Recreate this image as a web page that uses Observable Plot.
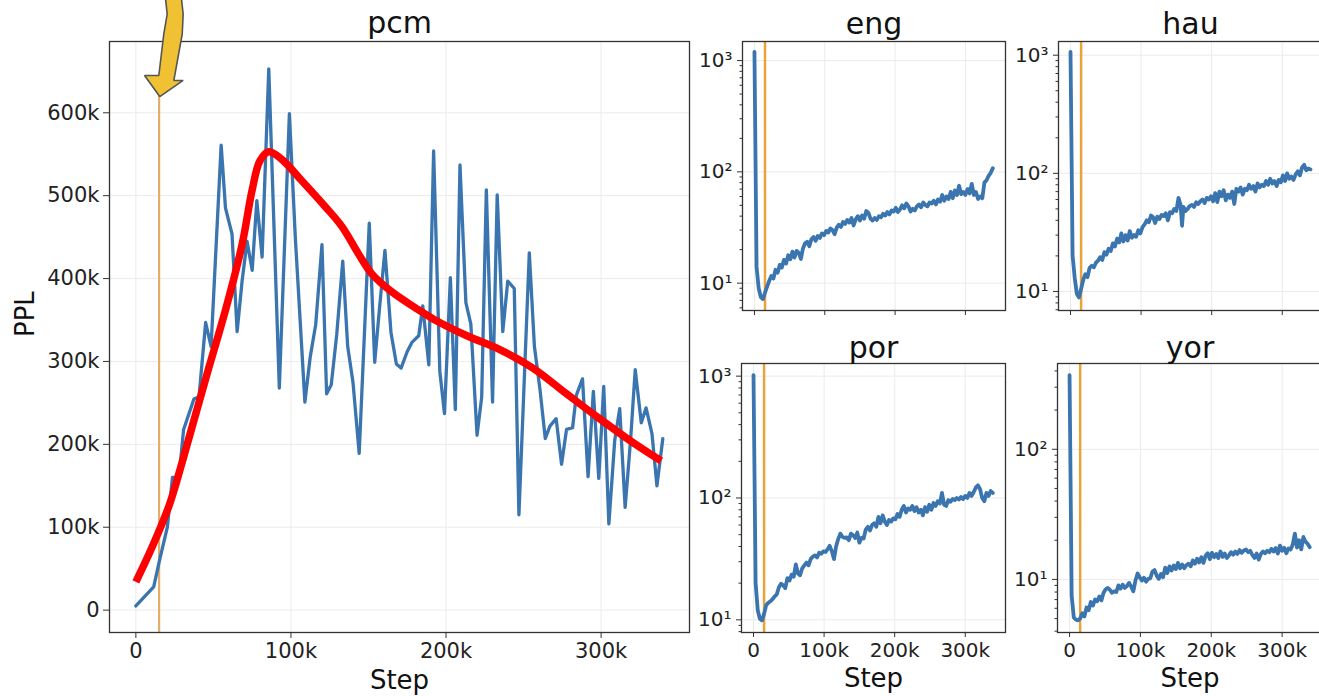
<!DOCTYPE html>
<html><head><meta charset="utf-8">
<script src="https://cdn.jsdelivr.net/npm/d3@7"></script>
<script src="https://cdn.jsdelivr.net/npm/@observablehq/plot@0.6"></script>
<style>
body{margin:0;background:#fff;overflow:hidden}
#fig{position:relative;width:1319px;height:696px;overflow:hidden;background:#fff}
.panel{position:absolute}
.panel svg{max-width:none !important;overflow:visible}
</style></head><body><div id="fig"></div>
<script>
// ---------- data (steps in thousands) ----------
const panelTitles = ["pcm", "eng", "hau", "por", "yor"];
const xLabel = "Step";
const yLabel = "PPL";
const xTicks = [0, 100, 200, 300];
const xTickLabels = ["0", "100k", "200k", "300k"];
const pcmYTicks = [0, 100, 200, 300, 400, 500, 600];
const pcmYTickLabels = ["0", "100k", "200k", "300k", "400k", "500k", "600k"];
const logTicks = [10, 100, 1000];
const logTickLabels = ["10\u00B9", "10\u00B2", "10\u00B3"];
const warmupStep = 15;
const warmupTopPPL = 620; // pcm marker line stops under the arrow tip (thousands)

const pcmStep = [0,11.5,15,20.3,23.6,27.8,30.8,37.5,40.7,45,48.5,55,57.8,62,65.3,68.5,71.7,75,78,81.4,85.7,92.5,99,102.8,109,112.4,116,120,123,126,129.5,133.4,136.6,140,144,150.5,154,157,160.6,164.5,168,171,175,178,182.4,185,188.9,192,196,199,202.8,206,209,212.8,216,220,223,226,230,233,236.6,239.8,244,247,253.7,257,260.6,264,267,271,274.5,277.7,281.6,284,288,291.6,295,298.5,301.7,305,308.8,312,315.5,319,322,325.9,329,332.8,336,339.8];
const pcmPPL = [5,28,58,100,160,160,218,255,257,347,318,561,485,454,336,397,445,410,494,426,653,268,599,450,251,305,345,441,261,272,332,421,318,275,189,467,299,362,434,335,297,292,312,323,331,367,296,554,288,237,401,242,537,371,345,211,257,507,251,501,336,397,388,115,431,318,266,207,222,231,176,218,220,259,279,161,264,159,270,104,205,243,124,205,290,226,244,213,150,207];

const trendStep = [0,10.7,21.4,27.8,36.4,47,57.8,68.5,75,80,85.7,94,107,122,132.8,143.5,152,165,180,192,213.5,235,256,277.7,299,320.6,338.7];
const trendPPL = [34,77,126,165,222,292,362,441,507,542,553,544,518,487,463,430,406,384,365,351,331,314,292,261,231,202,180];

const arrowStep = [18.3,20.2,18.0,14.8,5.6,15.4,30.5,24.5,29.9,30.5,28.6];
const arrowPPL = [752,719,695,645,645,619.6,639,639,695,719,752];

const engStep = [0,3,6,9,12,15,18,21,24,27,30,33,36,39,42,45,48,51,54,57,60,63,66,69,72,75,78,81,84,87,90,93,96,99,102,105,108,111,114,117,120,123,126,129,132,135,138,141,144,147,150,153,156,159,162,165,168,171,174,177,180,183,186,189,192,195,198,201,204,207,210,213,216,219,222,225,228,231,234,237,240,243,246,249,252,255,258,261,264,267,270,273,276,279,282,285,288,291,294,297,300,303,306,309,312,315,318,321,324,327,330,333,336,339];
const engPPL = [1197,14,9,7.5,7.2,8.2,9.3,10.5,11.6,11,13.2,12.4,14.6,13.8,16.2,15,17.8,16.4,19.2,17,19.5,18.8,16.5,20.5,22.8,23.6,21.5,24.8,26,24,26.5,25.5,28,27,29.5,28.5,31,30,27.5,31.5,33.5,32,35.5,34,37,35,38.5,33,37.5,40,36.5,40.5,38,44.5,43,38,36.5,38.5,37,40,39,42,40.5,43.5,41.5,45,44,47.5,43.5,46,50,47,52,49,44,46.5,45,49,51,48,53,50.5,49,53,52,55,51,56.5,54,62,55,60,57,66,58,68,62,75,63,66,62,70,64,78,62,66,57,60,58,80,84,92,98,108];

const hauStep = [0,3,6,9,12,15,18,21,24,27,30,33,36,39,42,45,48,51,54,57,60,63,66,69,72,75,78,81,84,87,90,93,96,99,102,105,108,111,114,117,120,123,126,129,132,135,138,141,144,147,150,153,156,158,160,163,166,169,172,175,178,181,184,187,190,193,196,199,202,205,208,211,214,217,220,223,226,229,232,235,238,241,244,247,250,253,256,259,262,265,268,271,274,277,280,283,286,289,292,295,298,301,304,307,310,313,316,319,322,325,328,331,334,337,340];
const hauPPL = [1067,20,13,9.5,8.9,10.5,12.5,14,13.2,15.8,16.5,16,17.5,18.2,19.5,18.5,21.5,20.5,23,22,25.5,24,28,26,31,26.5,30,27,32.5,28.5,30,29,33,31,35,37,40,38.5,44,42.5,38,43,41,44.5,43.5,46,40,47,46,50,48,62,54,36,52,48,50,53,54,52,57,55,58,60,56,62,60,64,58,68,57,70,64,72,59,66,62,70,55,74,70,76,66,74,72,80,74,78,70,82,76,80,78,86,80,90,82,86,78,88,84,96,86,100,90,94,88,98,104,96,112,118,106,110,108];

const porStep = [0,3,6,9,12,15,18,21,24,27,30,33,36,39,42,45,48,51,54,57,60,63,66,69,72,75,78,81,84,87,90,93,96,99,102,105,108,111,114,117,120,123,126,129,132,135,138,141,144,147,150,153,156,159,162,165,168,171,174,177,180,183,186,189,192,195,198,201,204,207,210,213,216,219,222,225,228,231,234,237,240,243,246,249,252,255,258,261,264,267,270,273,276,279,282,285,288,291,294,297,300,303,306,309,312,315,318,321,324,327,330,333,336,339];
const porPPL = [1020,20,12,10.2,9.9,11.2,13.2,13.8,14.2,14.8,15.6,16.2,18.5,19.8,19.2,18.2,22,21,23.5,22.6,28.5,24,23.2,26.5,28,29.5,28,31.5,33,33.8,32.5,35.5,34.8,36.5,36,38,40.5,36.5,31.5,40,46,51,48,47,47.5,45,51,49.5,47,52,43,47,46.5,55,58,54,60,62,58,70,62,72,64,60,66,64,68,67,74,70,80,86,76,82,80,86,78,84,76,80,72,84,77,88,80,91,86,94,90,110,88,86,96,93,98,96,100,97,102,98,104,100,110,104,112,122,127,118,100,94,110,104,114,110];

const yorStep = [0,3,6,9,12,15,18,21,24,27,30,33,36,39,42,45,48,51,54,57,60,63,66,69,72,75,78,81,84,87,90,93,96,99,102,105,108,111,114,117,120,123,126,129,132,135,138,141,144,147,150,153,156,159,162,165,168,171,174,177,180,183,186,189,192,195,198,201,204,207,210,213,216,219,222,225,228,231,234,237,240,243,246,249,252,255,258,261,264,267,270,273,276,279,282,285,288,291,294,297,300,303,306,309,312,315,318,321,324,327,330,333,336,339];
const yorPPL = [371,7.5,5.1,4.9,4.85,5.0,5.5,5.2,6.1,5.8,6.7,6.3,7.0,6.8,7.4,6.9,7.9,8.4,8.6,8.3,7.9,8.1,8.0,9.0,8.5,9.1,8.6,8.9,9.4,8.8,8.1,9.8,11.1,10.4,9.8,10.3,9.6,10.1,10.2,11.5,11.8,10.7,10.1,11.0,10.4,12.3,11.2,12.6,11.7,12.8,12.0,13.4,12.2,13.0,12.2,12.9,13.2,12.6,14.0,13.2,14.4,13.5,14.8,13.4,15.2,15.9,14.3,16.0,14.8,15.7,14.6,16.4,14.9,15.8,14.6,15.3,16.2,15.5,16.4,15.7,16.8,16.0,16.7,17.0,16.2,16.6,15.4,14.6,15.8,14.2,15.7,16.4,15.9,16.6,16.2,17.2,16.4,17.4,15.8,18.2,16.6,17.5,15.9,17.3,17.0,18.5,22.5,17.6,20.0,17.0,21.2,19.5,18.8,17.7];

// ---------- styling ----------
const BLUE = "#3a75af";
const ORANGE = "#e8a33a";
const ORANGE_PCM = "#e2ad66";
const GRID = "#ebebeb";
const FRAME = "#333333";
const FONT = "DejaVu Sans, Liberation Sans, sans-serif";
const xDomain = [-17, 357];

const fig = document.getElementById("fig");
function mount(svg, left, top) {
  const div = document.createElement("div");
  div.className = "panel";
  div.style.left = left + "px";
  div.style.top = top + "px";
  div.appendChild(svg);
  fig.appendChild(div);
}
const zipXY = (xs, ys) => xs.map((x, i) => ({x, y: ys[i]}));
const fmtX = d => xTickLabels[xTicks.indexOf(d)];
const fmtLog = d => logTickLabels[logTicks.indexOf(d)];
const baseStyle = {background: "transparent", fontFamily: FONT, fontSize: "20px", color: "#222", overflow: "visible"};

// ---------- pcm (linear) ----------
const pcm = Plot.plot({
  width: 700, height: 696,
  marginTop: 41, marginLeft: 109, marginRight: 11, marginBottom: 64,
  x: {domain: xDomain},
  y: {domain: [-27, 686]},
  style: {...baseStyle, fontSize: "21px"},
  marks: [
    Plot.gridX(xTicks, {stroke: GRID, strokeOpacity: 1, strokeWidth: 1}),
    Plot.gridY(pcmYTicks, {stroke: GRID, strokeOpacity: 1, strokeWidth: 1}),
    Plot.axisX(xTicks, {tickFormat: fmtX, tickSize: 6, tickPadding: 5, fontSize: 21, label: null, stroke: FRAME}),
    Plot.axisY(pcmYTicks, {tickFormat: d => pcmYTickLabels[pcmYTicks.indexOf(d)], tickSize: 6, tickPadding: 4, fontSize: 21, label: null, stroke: FRAME}),
    Plot.ruleX([warmupStep], {y1: -27, y2: warmupTopPPL, stroke: ORANGE_PCM, strokeWidth: 2.2}),
    Plot.line(zipXY(pcmStep, pcmPPL), {x: "x", y: "y", stroke: BLUE, strokeWidth: 3.3, strokeLinejoin: "round"}),
    Plot.line(zipXY(trendStep, trendPPL), {x: "x", y: "y", stroke: "#ff0000", strokeWidth: 7.5, curve: "catmull-rom", strokeLinecap: "butt"}),
    Plot.frame({stroke: FRAME, strokeWidth: 1.3}),
    Plot.line(zipXY(arrowStep, arrowPPL), {x: "x", y: "y", fill: "#f0c233", stroke: "#555555", strokeWidth: 1.6, strokeLinejoin: "miter"}),
    Plot.text([panelTitles[0]], {text: d => d, frameAnchor: "top", dy: -18.6, fontSize: 30, lineAnchor: "middle", fill: "#111"}),
    Plot.text([xLabel], {text: d => d, frameAnchor: "bottom", dy: 47.7, fontSize: 26, lineAnchor: "middle", fill: "#111"}),
    Plot.text([yLabel], {text: d => d, frameAnchor: "left", dx: -84, rotate: -90, fontSize: 26, lineAnchor: "middle", fill: "#111"})
  ]
});
mount(pcm, 0, 0);

// ---------- log panels ----------
function minorTicks(domain) {
  const out = [];
  for (let k = -1; k <= 4; k++) for (let m = 2; m <= 9; m++) {
    const v = m * Math.pow(10, k);
    if (v >= domain[0] && v <= domain[1]) out.push(v);
  }
  return out;
}
function logPanel({title, steps, vals, left, top, width, height, mt, ml, mr, mb, yDomain, titleDy, showX, labelDy}) {
  const major = logTicks.filter(t => t >= yDomain[0] && t <= yDomain[1]);
  const marks = [
    Plot.gridX(xTicks, {stroke: GRID, strokeOpacity: 1, strokeWidth: 1}),
    Plot.gridY(major, {stroke: GRID, strokeOpacity: 1, strokeWidth: 1}),
    Plot.axisX(xTicks, {tickFormat: showX ? fmtX : () => "", tickSize: 5, tickPadding: 5, fontSize: 20, label: null, stroke: FRAME}),
    Plot.axisY(major, {tickFormat: fmtLog, tickSize: 5, tickPadding: 5, fontSize: 20, label: null, stroke: FRAME}),
    Plot.axisY(minorTicks(yDomain), {tickFormat: () => "", tickSize: 2.5, tickPadding: 0, label: null, stroke: FRAME}),
    Plot.ruleX([warmupStep], {stroke: ORANGE, strokeWidth: 2.5}),
    Plot.line(zipXY(steps, vals), {x: "x", y: "y", stroke: BLUE, strokeWidth: 3.8, strokeLinejoin: "round"}),
    Plot.frame({stroke: FRAME, strokeWidth: 1.3}),
    Plot.text([title], {text: d => d, frameAnchor: "top", dy: titleDy, fontSize: 30, lineAnchor: "middle", fill: "#111"})
  ];
  if (showX) marks.push(Plot.text([xLabel], {text: d => d, frameAnchor: "bottom", dy: labelDy, fontSize: 26, lineAnchor: "middle", fill: "#111"}));
  const p = Plot.plot({
    width, height, marginTop: mt, marginLeft: ml, marginRight: mr, marginBottom: mb,
    x: {domain: xDomain},
    y: {type: "log", domain: yDomain},
    style: baseStyle,
    marks
  });
  mount(p, left, top);
}

logPanel({title: panelTitles[1], steps: engStep, vals: engPPL, left: 690, top: 0, width: 320, height: 330,
  mt: 41, ml: 52, mr: 5, mb: 20, yDomain: [5.68, 1483], titleDy: -17.6, showX: false});
logPanel({title: panelTitles[2], steps: hauStep, vals: hauPPL, left: 1008, top: 0, width: 320, height: 330,
  mt: 41, ml: 50, mr: 6, mb: 20, yDomain: [6.9, 1306], titleDy: -17.6, showX: false});
logPanel({title: panelTitles[3], steps: porStep, vals: porPPL, left: 690, top: 330, width: 320, height: 366,
  mt: 33, ml: 51, mr: 5, mb: 64, yDomain: [7.87, 1270], titleDy: -15.6, showX: true, labelDy: 46.4});
logPanel({title: panelTitles[4], steps: yorStep, vals: yorPPL, left: 1008, top: 330, width: 320, height: 366,
  mt: 33, ml: 49, mr: 6, mb: 64, yDomain: [3.91, 456], titleDy: -15.6, showX: true, labelDy: 46.4});
</script>
</body></html>
